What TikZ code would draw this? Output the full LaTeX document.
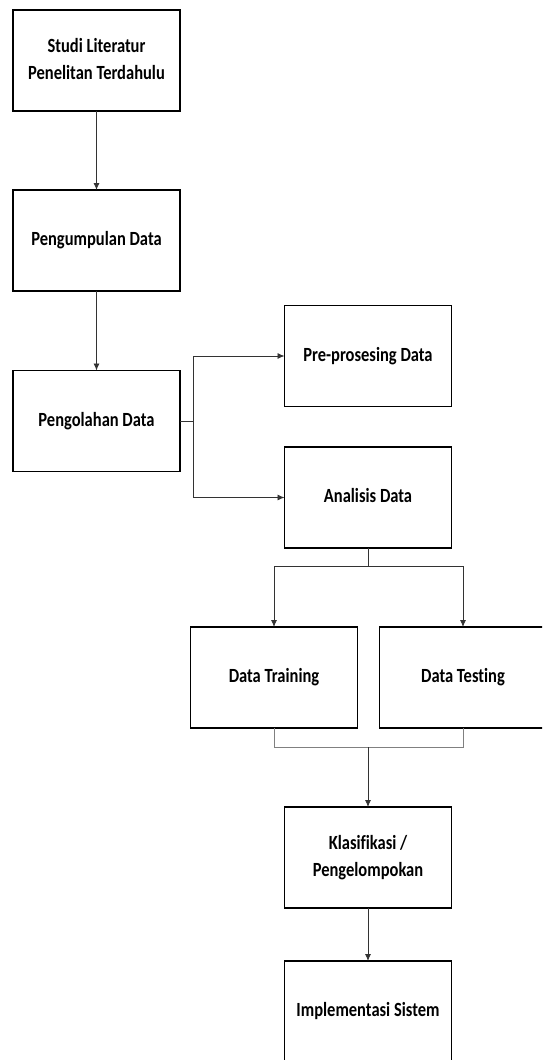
\documentclass[tikz,border=0pt]{standalone}
\usepackage{fontspec}
\usepackage{graphicx}
\setmainfont{Carlito}[Ligatures=NoCommon]
\usetikzlibrary{arrows.meta}
\newcommand{\teks}[1]{\scalebox{1}[1.22]{\begin{tabular}{@{}c@{}}#1\end{tabular}}}
\begin{document}
\begin{tikzpicture}[x=1pt, y=-1pt, >={Latex[length=7pt,width=6pt]},
    font=\fontsize{16.5}{22}\selectfont\bfseries,
    box/.style={draw=black, line width=1.7pt, minimum width=167pt, minimum height=101pt, align=center, outer sep=0pt},
    link/.style={draw=black!80, line width=0.8pt}]
    \useasboundingbox (0,0) rectangle (542,1060);
    \clip (0,0) rectangle (542,1060);
    \node[box] (studi) at (96.5,60.5) {\teks{Studi Literatur\\Penelitan Terdahulu}};
    \node[box] (kumpul) at (96.5,240.5) {\teks{Pengumpulan Data}};
    \node[box] (olah) at (96.5,421) {\teks{Pengolahan Data}};
    \node[box] (prepro) at (368,356) {\teks{Pre-prosesing Data}};
    \node[box] (analisis) at (368,497.5) {\teks{Analisis Data}};
    \node[box] (training) at (274,677.5) {\teks{Data Training}};
    \node[box] (testing) at (463,677.5) {\teks{Data Testing}};
    \node[box] (klasifikasi) at (368,857.5) {\teks{Klasifikasi /\\Pengelompokan}};
    \node[box] (implementasi) at (368,1011.5) {\teks{Implementasi Sistem}};
    %\draw (0,0) grid (542,1060);
    \draw[link,->] (studi) -- (kumpul);
    \draw[link,->] (kumpul) -- (olah);
    \draw[link] (olah.east) -- ++(13,0) coordinate (cabang);
    \draw[link,->] (cabang) |- (prepro);
    \draw[link,->] (cabang) |- (analisis);
    \draw[link] (analisis.south) -- ++(0,18) coordinate (bagi);
    \draw[link,->] (bagi) -| (training);
    \draw[link,->] (bagi) -| (testing);
    \draw[link, draw=black!50] (training.south) -- ++(0,19) coordinate (gabung) -| (testing.south);
    \draw[link,->] (gabung -| klasifikasi.north) -- (klasifikasi);
    \draw[link,->] (klasifikasi) -- (implementasi);
\end{tikzpicture}
\end{document}
